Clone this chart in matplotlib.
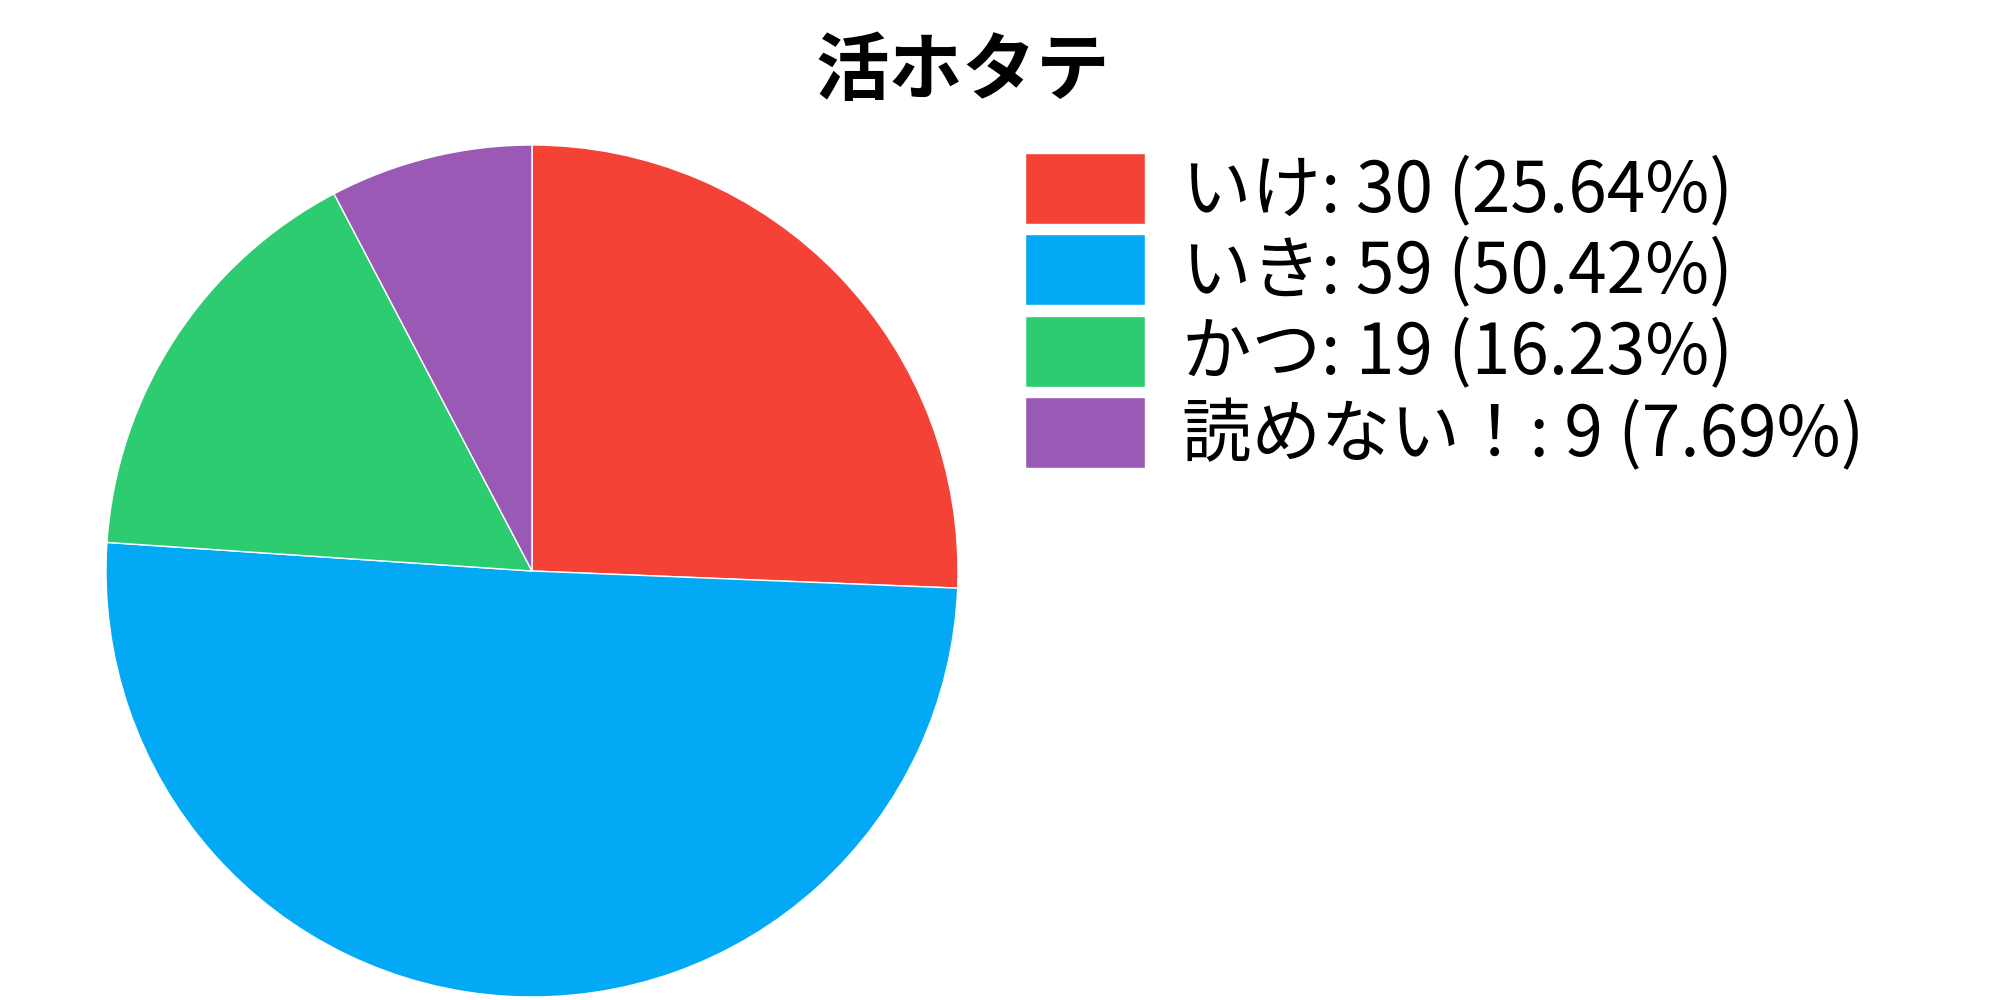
import matplotlib
matplotlib.use("Agg")
import matplotlib.pyplot as plt

# データ
title = "活ホタテ"
labels = ["いけ", "いき", "かつ", "読めない！"]
counts = [30, 59, 19, 9]
percents = ["25.64", "50.42", "16.23", "7.69"]
colors = ["#F44336", "#03A9F4", "#2ECC71", "#9B59B6"]

plt.rcParams['font.family'] = ['Noto Sans CJK JP', 'DejaVu Sans']

fig = plt.figure(figsize=(20, 10), dpi=100)
ax = fig.add_axes([0.053, 0.003, 0.426, 0.852])

wedges, _ = ax.pie(counts, colors=colors, startangle=90, counterclock=False,
                   wedgeprops=dict(edgecolor="white", linewidth=1))
ax.set_xlim(-1, 1)
ax.set_ylim(-1, 1)
ax.set_aspect("equal")

# 凡例のテキスト
legend_labels = ["%s: %d (%s%%)" % (l, c, p) for l, c, p in zip(labels, counts, percents)]
fig.legend(wedges, legend_labels, loc="upper left", bbox_to_anchor=(0.5125, 0.847),
           frameon=False, fontsize=50, handlelength=1.73, handleheight=1.2,
           handletextpad=0.53, labelspacing=0.09, borderpad=0, borderaxespad=0)

fig.text(0.4815, 0.927, title, ha="center", va="center", fontsize=53, fontweight="bold")

fig.savefig("out.png", dpi=100)
